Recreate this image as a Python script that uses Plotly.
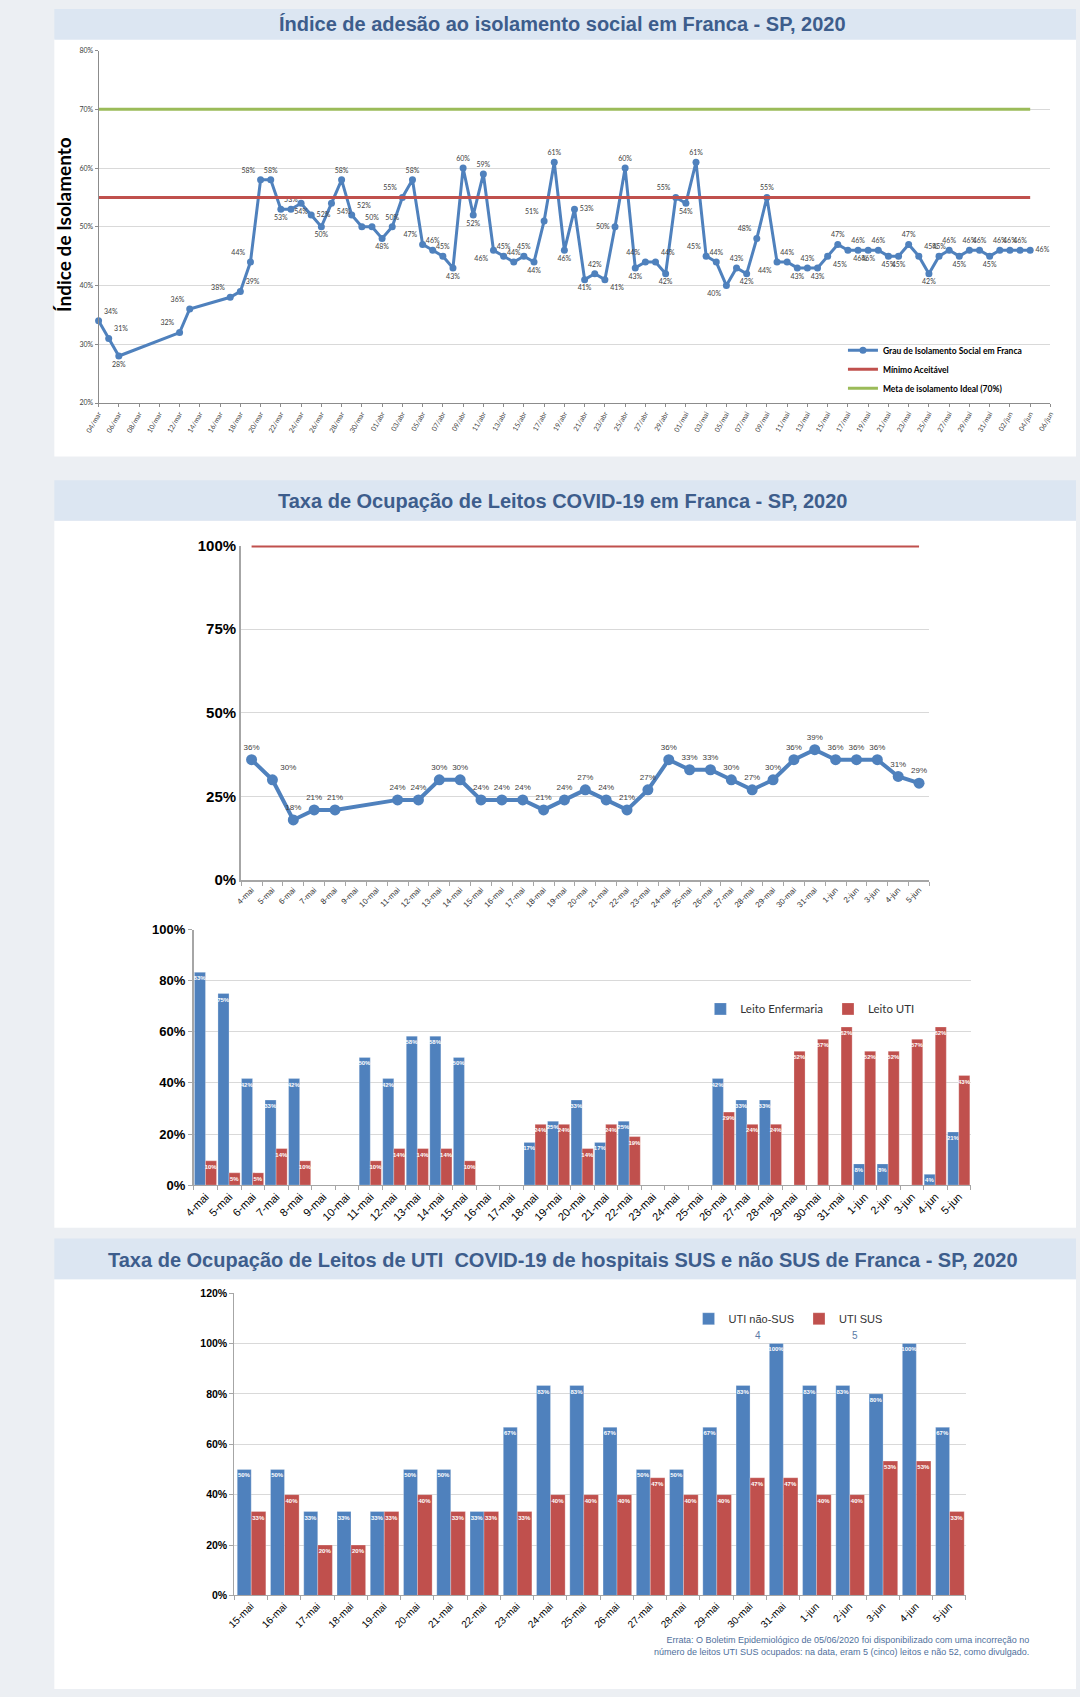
import plotly.graph_objects as go
import pandas as pd

W, H = 1080, 1697


def fx(p):
    return p / W


def fy(p):
    return 1 - p / H


# ---------------- Chart 1 data: índice de isolamento ----------------
iso_dates = (["2020-03-04", "2020-03-05", "2020-03-06", "2020-03-12", "2020-03-13"]
             + [d.strftime("%Y-%m-%d") for d in pd.date_range("2020-03-17", "2020-06-04")])
iso_values = [34, 31, 28, 32, 36,
              38, 39, 44, 58, 58, 53, 53, 54, 52, 50, 54, 58, 52, 50, 50,
              48, 50, 55, 58, 47, 46, 45, 43, 60, 52, 59, 46, 45, 44, 45, 44, 51, 61, 46, 53,
              41, 42, 41, 50, 60, 43, 44, 44, 42, 55,
              54, 61, 45, 44, 40, 43, 42, 48, 55, 44, 44, 43, 43, 43, 45, 47, 46, 46, 46, 46,
              45, 45, 47, 45, 42, 45, 46, 45, 46, 46, 45,
              46, 46, 46, 46]
iso_label_pos = ["TR", "TR", "B", "TL", "TL",
                 "TL", "TR", "TL", "TL", "T", "B", "T", "B", "R", "B", "BR", "T", "TR", "N", "T",
                 "B", "T", "TL", "T", "TL", "T", "T", "B", "T", "B", "T", "BL", "T", "T", "T", "B",
                 "TL", "T", "B", "R", "B", "T", "BR", "L", "T", "B", "TL", "TR", "B", "TL",
                 "B", "T", "TL", "T", "BL", "T", "B", "TL", "T", "BL", "T", "B", "T", "B", "BR",
                 "T", "BR", "T", "B", "T", "B", "B", "T", "TR", "B", "T", "T", "B", "T", "T", "B",
                 "T", "T", "T", "R"]
MINIMO_ACEITAVEL = 55
META_IDEAL = 70
MESES = {3: "mar", 4: "abr", 5: "mai", 6: "jun"}
iso_tick_dates = pd.date_range("2020-03-04", "2020-06-06", freq="2D")
iso_tick_text = [f"{d.day:02d}/{MESES[d.month]}" for d in iso_tick_dates]

# ---------------- Chart 2 data: ocupação total ----------------
leitos_cats = [f"{d}-mai" for d in range(4, 32)] + [f"{d}-jun" for d in range(1, 6)]
ocupacao_total = [36, 30, 18, 21, 21, None, None, 24, 24, 30, 30, 24, 24, 24, 21, 24, 27, 24, 21,
                  27, 36, 33, 33, 30, 27, 30, 36, 39, 36, 36, 36, 31, 29]
LIMITE_100 = 100
ocup_ticks = [0, 25, 50, 75, 100]

# ---------------- Chart 3 data: enfermaria x UTI ----------------
leito_enfermaria = [83.3, 75, 41.7, 33.3, 41.7, None, None, 50, 41.7, 58.3, 58.3, 50, None, None,
                    16.7, 25, 33.3, 16.7, 25, None, None, None, 41.7, 33.3, 33.3, None, None, None,
                    8.3, 8.3, None, 4.2, 20.8]
leito_uti = [9.5, 4.8, 4.8, 14.3, 9.5, None, None, 9.5, 14.3, 14.3, 14.3, 9.5, None, None,
             23.8, 23.8, 14.3, 23.8, 19.0, None, None, None, 28.6, 23.8, 23.8, 52.4, 57.1, 61.9,
             52.4, 52.4, 57.1, 61.9, 42.9]

# ---------------- Chart 4 data: UTI SUS x não SUS ----------------
uti_cats = [f"{d}-mai" for d in range(15, 32)] + [f"{d}-jun" for d in range(1, 6)]
uti_nao_sus = [50, 50, 33.3, 33.3, 33.3, 50, 50, 33.3, 66.7, 83.3, 83.3, 66.7, 50, 50, 66.7,
               83.3, 100, 83.3, 83.3, 80, 100, 66.7]
uti_sus = [33.3, 40, 20, 20, 33.3, 40, 33.3, 33.3, 33.3, 40, 40, 40, 46.7, 40, 40, 46.7, 46.7,
           40, 40, 53.3, 53.3, 33.3]

BLUE = "#4f81bd"
RED = "#c0504d"
GREEN = "#9bbb59"
TITLE_BG = "#dce6f2"
TITLE_FG = "#3d5d8c"
PAGE_BG = "#eceff3"
GRID = "#d9d9d9"

POS = {"T": "top center", "B": "bottom center", "TL": "top left", "TR": "top right",
       "BL": "bottom left", "BR": "bottom right", "L": "middle left", "R": "middle right",
       "N": "top center"}

fig = go.Figure()

# ---- chart 1 traces
fig.add_trace(go.Scatter(
    x=iso_dates, y=iso_values, mode="lines+markers+text",
    name="Grau de Isolamento Social em Franca",
    line=dict(color=BLUE, width=3), marker=dict(size=7, color=BLUE),
    text=["" if p == "N" else f"{v}%" for v, p in zip(iso_values, iso_label_pos)],
    textposition=[POS[p] for p in iso_label_pos],
    textfont=dict(family="Lato", size=7, color="#404040"),
    cliponaxis=False, xaxis="x", yaxis="y", legend="legend"))
fig.add_trace(go.Scatter(
    x=[iso_dates[0], iso_dates[-1]], y=[MINIMO_ACEITAVEL] * 2, mode="lines",
    name="Mínimo Aceitável", line=dict(color=RED, width=3),
    xaxis="x", yaxis="y", legend="legend"))
fig.add_trace(go.Scatter(
    x=[iso_dates[0], iso_dates[-1]], y=[META_IDEAL] * 2, mode="lines",
    name="Meta de isolamento Ideal (70%)", line=dict(color=GREEN, width=3),
    xaxis="x", yaxis="y", legend="legend"))

# ---- chart 2 traces
fig.add_trace(go.Scatter(
    x=leitos_cats, y=[LIMITE_100] * len(leitos_cats), mode="lines",
    line=dict(color=RED, width=4), showlegend=False, cliponaxis=False,
    xaxis="x2", yaxis="y2"))
fig.add_trace(go.Scatter(
    x=leitos_cats, y=ocupacao_total, mode="lines+markers+text", connectgaps=True,
    line=dict(color=BLUE, width=4), marker=dict(size=11, color=BLUE),
    text=[("" if v is None else f"{v}%") for v in ocupacao_total],
    textposition=["top right" if i == 1 else "top center" for i in range(len(leitos_cats))],
    textfont=dict(family="Liberation Sans", size=8, color="#404040"),
    showlegend=False, cliponaxis=False, xaxis="x2", yaxis="y2"))

# ---- chart 3 traces
bar_text = dict(texttemplate="%{y:.0f}%", textposition="inside", insidetextanchor="end",
                textangle=0, constraintext="none",
                textfont=dict(family="Liberation Sans", size=6, color="white", weight="bold"),
                cliponaxis=False)
bar_line = dict(color="rgba(255,255,255,0.5)", width=0.5)
fig.add_trace(go.Bar(x=leitos_cats, y=leito_enfermaria, name="Leito Enfermaria",
                     marker=dict(color=BLUE, line=bar_line),
                     width=0.47, offset=-0.48, xaxis="x3", yaxis="y3", legend="legend2", **bar_text))
fig.add_trace(go.Bar(x=leitos_cats, y=leito_uti, name="Leito UTI",
                     marker=dict(color=RED, line=bar_line),
                     width=0.47, offset=-0.01, xaxis="x3", yaxis="y3", legend="legend2", **bar_text))

# ---- chart 4 traces
fig.add_trace(go.Bar(x=uti_cats, y=uti_nao_sus, name="UTI não-SUS",
                     marker=dict(color=BLUE, line=bar_line),
                     width=0.42, offset=-0.41, xaxis="x4", yaxis="y4", legend="legend3", **bar_text))
fig.add_trace(go.Bar(x=uti_cats, y=uti_sus, name="UTI SUS",
                     marker=dict(color=RED, line=bar_line),
                     width=0.44, offset=0.01, xaxis="x4", yaxis="y4", legend="legend3", **bar_text))

# ---- backgrounds / title bars
shapes = []
for y0, y1 in [(30, 452), (517, 1231), (1283, 1697)]:
    shapes.append(dict(type="rect", xref="paper", yref="paper", x0=fx(41), x1=1,
                       y0=fy(y1), y1=fy(y0), fillcolor="white", line=dict(width=0), layer="below"))
for y0, y1 in [(0, 31), (476, 517), (1242, 1283)]:
    shapes.append(dict(type="rect", xref="paper", yref="paper", x0=fx(41), x1=1,
                       y0=fy(y1), y1=fy(y0), fillcolor=TITLE_BG, line=dict(width=0), layer="below"))

titles = [("Índice de adesão ao isolamento social em Franca - SP, 2020", 15),
          ("Taxa de Ocupação de Leitos COVID-19 em Franca - SP, 2020", 497),
          ("Taxa de Ocupação de Leitos de UTI  COVID-19 de hospitais SUS e não SUS de Franca - SP, 2020", 1264)]
annotations = []
for t, yy in titles:
    annotations.append(dict(text=t, x=fx(558), y=fy(yy), xref="paper", yref="paper",
                            showarrow=False, xanchor="center", yanchor="middle",
                            font=dict(family="Liberation Sans", size=20, color=TITLE_FG, weight="bold")))
annotations.append(dict(text="Índice de Isolamento", x=fx(51), y=fy(218), xref="paper", yref="paper",
                        showarrow=False, textangle=-90, xanchor="center", yanchor="middle",
                        font=dict(family="Lato", size=19, color="black", weight="bold")))
annotations.append(dict(text="4", x=fx(762), y=fy(1340), xref="paper", yref="paper", showarrow=False,
                        yanchor="middle",
                        font=dict(family="Liberation Sans", size=10, color="#5b7aa6")))
annotations.append(dict(text="5", x=fx(860), y=fy(1340), xref="paper", yref="paper", showarrow=False,
                        yanchor="middle",
                        font=dict(family="Liberation Sans", size=10, color="#5b7aa6")))
annotations.append(dict(
    text="Errata: O Boletim Epidemiológico de 05/06/2020 foi disponibilizado com uma incorreção no<br>"
         "número de leitos UTI SUS ocupados: na data, eram 5 (cinco) leitos e não 52, como divulgado.",
    x=fx(1034), y=fy(1654), xref="paper", yref="paper", showarrow=False, align="right",
    xanchor="right", yanchor="middle",
    font=dict(family="Liberation Sans", size=9, color="#4f6f9c")))

tick_small = dict(family="Lato", size=7, color="#404040")


def bold_tick(s):
    return dict(family="Liberation Sans", size=s, color="black", weight="bold")


fig.update_layout(
    width=W, height=H, margin=dict(l=0, r=0, t=0, b=0),
    paper_bgcolor=PAGE_BG, plot_bgcolor="white",
    shapes=shapes, annotations=annotations,
    xaxis=dict(domain=[fx(86), fx(1054)], type="date", range=["2020-03-04", "2020-06-06"],
               tickvals=list(iso_tick_dates), ticktext=iso_tick_text, tickangle=-60,
               tickfont=tick_small, showgrid=False, showline=True, linecolor="#8c8c8c",
               ticks="outside", ticklen=3, tickcolor="#8c8c8c", anchor="y"),
    yaxis=dict(domain=[fy(398), fy(42)], range=[20, 80], dtick=10, ticksuffix="%",
               tickfont=tick_small, gridcolor=GRID, showline=True, linecolor="#8c8c8c",
               ticks="outside", ticklen=3, tickcolor="#8c8c8c", zeroline=False, anchor="x"),
    xaxis2=dict(domain=[fx(231), fx(931)], type="category", range=[-0.5, len(leitos_cats) - 0.5],
                tickangle=-45,
                tickfont=dict(family="Liberation Sans", size=8, color="#333333"),
                tickson="boundaries", ticks="outside", ticklen=4, tickcolor="#a6a6a6",
                showline=True, linecolor="#a6a6a6", linewidth=2, showgrid=False, anchor="y2"),
    yaxis2=dict(domain=[fy(880), fy(542)], range=[0, 100], tickvals=ocup_ticks,
                ticktext=[f"{t}%" for t in ocup_ticks],
                tickfont=bold_tick(15), gridcolor=GRID, showline=True,
                linecolor="#a6a6a6", linewidth=2, zeroline=False, anchor="x2"),
    xaxis3=dict(domain=[fx(183), fx(973)], type="category", range=[-0.5, len(leitos_cats) - 0.5],
                tickangle=-45,
                tickfont=dict(family="Liberation Sans", size=11, color="black"),
                tickson="boundaries", ticks="outside", ticklen=4, tickcolor="#a6a6a6",
                showline=True, linecolor="#a6a6a6", linewidth=1, showgrid=False, anchor="y3"),
    yaxis3=dict(domain=[fy(1188), fy(930)], range=[0, 100], dtick=20, ticksuffix="%",
                tickfont=bold_tick(13), gridcolor=GRID, showline=True, linecolor="#a6a6a6",
                linewidth=2, zeroline=False, ticks="outside", ticklen=4, tickcolor="#a6a6a6",
                anchor="x3"),
    xaxis4=dict(domain=[fx(224), fx(968)], type="category", range=[-0.5, len(uti_cats) - 0.5],
                tickangle=-45,
                tickfont=dict(family="Liberation Sans", size=10, color="black"),
                tickson="boundaries", ticks="outside", ticklen=4, tickcolor="#a6a6a6",
                showline=True, linecolor="#a6a6a6", linewidth=1, showgrid=False, anchor="y4"),
    yaxis4=dict(domain=[fy(1602.5), fy(1297)], range=[0, 120], dtick=20, ticksuffix="%",
                tickfont=bold_tick(10.5), gridcolor=GRID, showline=True, linecolor="#a6a6a6",
                linewidth=1, zeroline=False, ticks="outside", ticklen=4, tickcolor="#a6a6a6",
                anchor="x4"),
    legend=dict(x=fx(843), y=fy(330), xanchor="left", yanchor="top", bgcolor="rgba(0,0,0,0)",
                font=dict(family="Lato", size=8.5, color="black", weight="bold"),
                tracegroupgap=0, itemwidth=30),
    legend2=dict(x=fx(698), y=fy(1010), xanchor="left", yanchor="middle", orientation="h",
                 bgcolor="rgba(0,0,0,0)", font=dict(family="Lato", size=11.5, color="#333333")),
    legend3=dict(x=fx(686), y=fy(1323), xanchor="left", yanchor="middle", orientation="h",
                 bgcolor="rgba(0,0,0,0)", font=dict(family="Liberation Sans", size=11, color="#333333")),
)

fig.write_html("out.html", config={"displayModeBar": False},
               post_script="document.body.style.margin='0';")
